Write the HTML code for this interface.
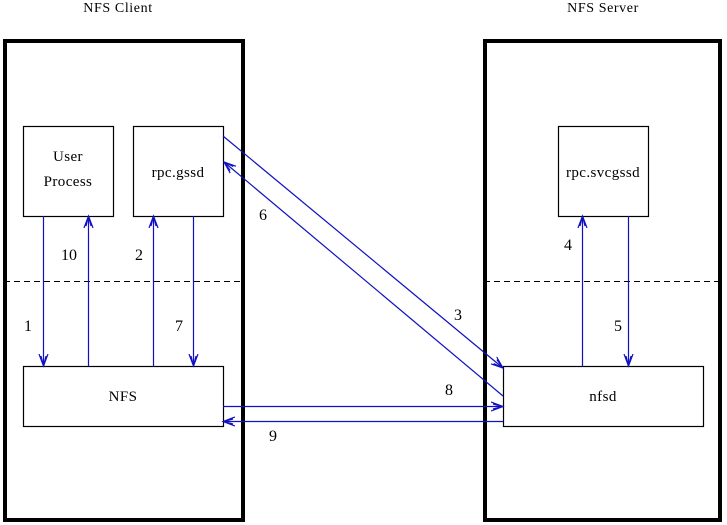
<!DOCTYPE html>
<html><head><style>body{margin:0;background:#fff}svg{display:block}</style></head>
<body>
<svg width="727" height="525" viewBox="0 0 727 525" xmlns="http://www.w3.org/2000/svg" font-family="Liberation Serif, serif" font-size="14">
<defs>
<marker id="a" markerWidth="14" markerHeight="10" refX="12" refY="5" orient="auto" markerUnits="userSpaceOnUse">
<path d="M0,0.5 L12,5 L0,9.5 M2,2.5 L12,5 L2,7.5" fill="none" stroke="#1010c0" stroke-width="1.2"/>
</marker>
</defs>
<g font-size="14" letter-spacing="0.6">
<text x="118" y="12" text-anchor="middle">NFS Client</text>
<text x="603" y="12" text-anchor="middle">NFS Server</text>
</g>
<rect x="5" y="41" width="238" height="479" fill="none" stroke="#000" stroke-width="4"/>
<rect x="485" y="41" width="235" height="479" fill="none" stroke="#000" stroke-width="4"/>
<g fill="none" stroke="#000" stroke-width="1.2">
<rect x="23.5" y="126.5" width="90" height="90"/>
<rect x="133.5" y="126.5" width="90" height="90"/>
<rect x="558.5" y="126.5" width="90" height="90"/>
<rect x="23.5" y="366.5" width="200" height="60"/>
<rect x="503.5" y="366.5" width="200" height="60"/>
</g>
<g stroke="#000" stroke-width="1" stroke-dasharray="6,4">
<line x1="4" y1="281.5" x2="244" y2="281.5"/>
<line x1="484" y1="281.5" x2="722" y2="281.5"/>
</g>
<g stroke="#1010c0" stroke-width="1.2" fill="none" marker-end="url(#a)">
<line x1="43.5" y1="216" x2="43.5" y2="366"/>
<line x1="88.5" y1="366" x2="88.5" y2="216"/>
<line x1="153.5" y1="366" x2="153.5" y2="216"/>
<line x1="193.5" y1="216" x2="193.5" y2="366"/>
<line x1="582.5" y1="366" x2="582.5" y2="216"/>
<line x1="628.5" y1="216" x2="628.5" y2="366"/>
<line x1="223" y1="136" x2="503" y2="368"/>
<line x1="503" y1="396" x2="224" y2="162"/>
<line x1="223" y1="406.5" x2="503" y2="406.5"/>
<line x1="503" y1="421.5" x2="223" y2="421.5"/>
</g>
<g text-anchor="middle" font-size="15" letter-spacing="0.4">
<text x="68" y="161">User</text>
<text x="68" y="186">Process</text>
<text x="178" y="177">rpc.gssd</text>
<text x="603" y="177">rpc.svcgssd</text>
<text x="123" y="401">NFS</text>
<text x="603" y="401">nfsd</text>
</g>
<g text-anchor="middle" font-size="16">
<text x="28" y="331">1</text>
<text x="69" y="260">10</text>
<text x="139" y="260">2</text>
<text x="179" y="331">7</text>
<text x="263" y="220">6</text>
<text x="458" y="320">3</text>
<text x="449" y="395">8</text>
<text x="273" y="441">9</text>
<text x="568" y="250">4</text>
<text x="618" y="331">5</text>
</g>
</svg>
</body></html>
